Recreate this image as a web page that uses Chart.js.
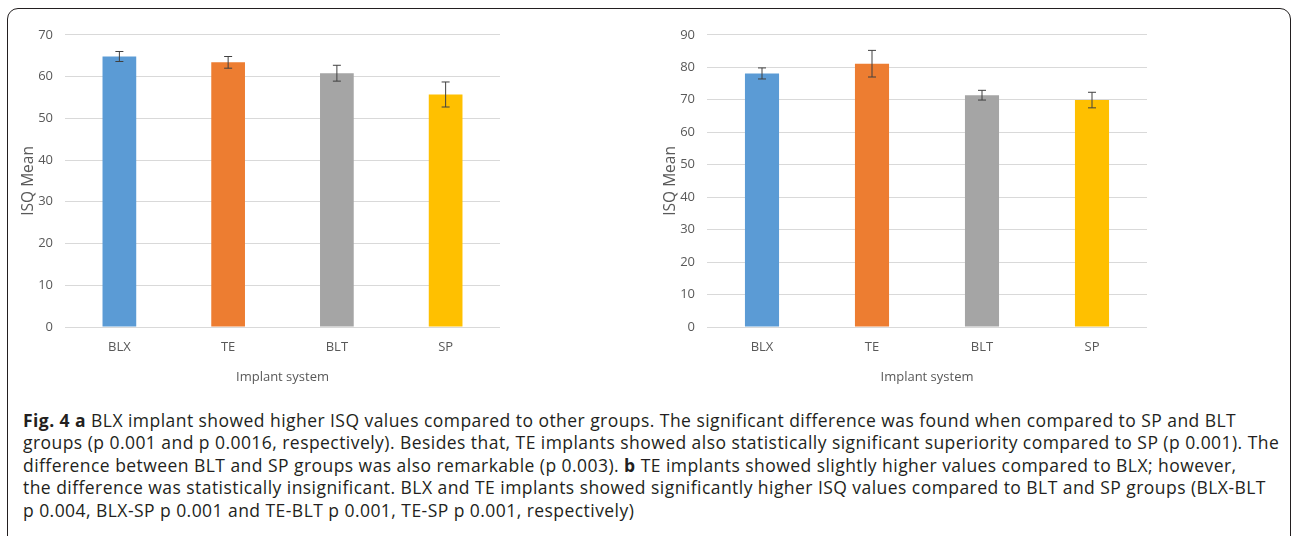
<!DOCTYPE html>
<html>
<head>
<meta charset="utf-8">
<script src="https://cdn.jsdelivr.net/npm/chart.js@4.4.1/dist/chart.umd.min.js"></script>
<style>
  html, body { margin: 0; padding: 0; background: #fff; }
  body { width: 1292px; height: 536px; position: relative; overflow: hidden; }
  .frame {
    position: absolute; left: 7px; top: 8px; width: 1284px; height: 540px;
    border: 1.5px solid #231f20; border-radius: 11px; box-sizing: border-box;
  }
  .chart-box { position: absolute; }
  #leftBox  { left: 10px;  top: 15px; width: 500px; height: 385px; }
  #rightBox { left: 652px; top: 15px; width: 505px; height: 385px; }
  .caption {
    position: absolute; left: 23px; top: 409px;
    font-family: "Open Sans", sans-serif; font-size: 17.5px; line-height: 22.4px;
    letter-spacing: 0.45px;
    color: #231f20; white-space: nowrap;
  }
  .caption b { font-weight: 700; }
</style>
</head>
<body>
<div class="frame"></div>
<div class="chart-box" id="leftBox"><canvas id="chartA"></canvas></div>
<div class="chart-box" id="rightBox"><canvas id="chartB"></canvas></div>
<div class="caption">
  <b>Fig. 4 a</b> BLX implant showed higher ISQ values compared to other groups. The significant difference was found when compared to SP and BLT<br>
  groups (p 0.001 and p 0.0016, respectively). Besides that, TE implants showed also statistically significant superiority compared to SP (p 0.001). The<br>
  difference between BLT and SP groups was also remarkable (p 0.003). <b>b</b> TE implants showed slightly higher values compared to BLX; however,<br>
  the difference was statistically insignificant. BLX and TE implants showed significantly higher ISQ values compared to BLT and SP groups (BLX-BLT<br>
  p 0.004, BLX-SP p 0.001 and TE-BLT p 0.001, TE-SP p 0.001, respectively)
</div>

<script>
// data
const implants = ['BLX', 'TE', 'BLT', 'SP'];
const barColors = ['#5b9bd5', '#ed7d31', '#a5a5a5', '#ffc000'];

const isqMeanA = [64.8, 63.4, 60.8, 55.7];
const isqErrA  = [1.2, 1.4, 1.9, 3.0];
const ticksA   = { max: 70, step: 10 };

const isqMeanB = [78.1, 81.1, 71.4, 69.9];
const isqErrB  = [1.7, 4.1, 1.5, 2.4];
const ticksB   = { max: 90, step: 10 };

const textColor = '#595959';
const gridColor = '#d9d9d9';

/* =============================
   ERROR BARS PLUGIN
============================= */
const errorBars = {
    id: 'errorBars',
    afterDatasetsDraw(chart) {
        const { ctx, scales: { y } } = chart;
        chart.data.datasets.forEach((ds, di) => {
            const meta = chart.getDatasetMeta(di);
            meta.data.forEach((bar, i) => {
                const v = ds.data[i], e = ds.errors[i];
                const yTop = y.getPixelForValue(v + e);
                const yBot = y.getPixelForValue(v - e);
                const half = 4;
                ctx.save();
                ctx.strokeStyle = '#404040';
                ctx.lineWidth = 1;
                ctx.beginPath();
                ctx.moveTo(bar.x, yTop); ctx.lineTo(bar.x, yBot);
                ctx.moveTo(bar.x - half, yTop); ctx.lineTo(bar.x + half, yTop);
                ctx.moveTo(bar.x - half, yBot); ctx.lineTo(bar.x + half, yBot);
                ctx.stroke();
                ctx.restore();
            });
        });
    }
};

function drawIsqChart(id, means, errs, yTicks) {
    const ctx = document.getElementById(id);
    return new Chart(ctx, {
        type: 'bar',
        data: {
            labels: implants,
            datasets: [{
                data: means,
                errors: errs,
                backgroundColor: barColors,
                borderWidth: 0,
                categoryPercentage: 1,
                barPercentage: 0.31
            }]
        },
        options: {
            responsive: true,
            maintainAspectRatio: false,
            animation: false,
            layout: { padding: { top: 18, right: 10, left: 0, bottom: 0 } },
            plugins: { legend: { display: false }, tooltip: { enabled: false } },
            scales: {
                x: {
                    grid: { display: false, drawTicks: false },
                    border: { display: false },
                    ticks: { color: textColor, font: { family: 'Open Sans', size: 13 }, padding: 12 },
                    title: {
                        display: true, text: 'Implant system', color: textColor,
                        font: { family: 'Open Sans', size: 13 }, padding: { top: 8, bottom: 15 }
                    },
                    afterFit: s => { s.height = 73; }
                },
                y: {
                    min: 0, max: yTicks.max,
                    grid: { color: gridColor, lineWidth: 1, drawTicks: false },
                    border: { display: false },
                    ticks: { stepSize: yTicks.step, color: textColor, font: { family: 'Open Sans', size: 13 }, padding: 12 },
                    title: {
                        display: true, text: 'ISQ Mean', color: textColor,
                        font: { family: 'Open Sans', size: 15.5 }, padding: { top: 9, bottom: 0 }
                    },
                    afterFit: s => { s.width = 55; }
                }
            }
        },
        plugins: [errorBars]
    });
}

document.addEventListener('DOMContentLoaded', () => {
    drawIsqChart('chartA', isqMeanA, isqErrA, ticksA);
    drawIsqChart('chartB', isqMeanB, isqErrB, ticksB);
});
</script>
</body>
</html>
